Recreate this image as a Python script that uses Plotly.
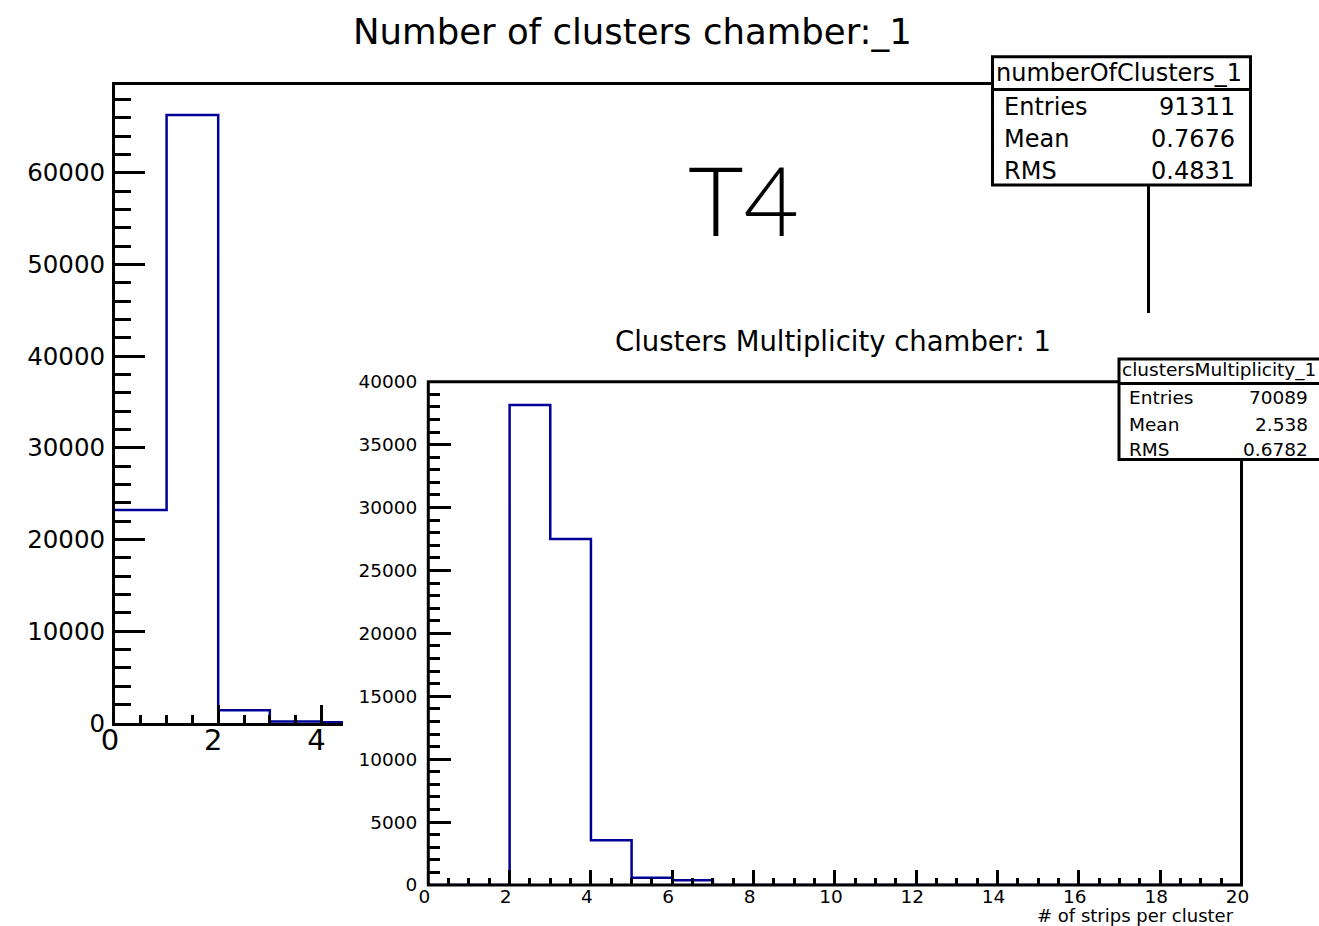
import plotly.graph_objects as go

# ---- data -------------------------------------------------------------
# number of clusters per event, chamber 1 (20 unit-width bins, 0..20)
clusters_edges = list(range(0, 21))
clusters_counts = [23230, 66300, 1400, 160, 90, 40, 20, 10, 0, 0,
                   0, 0, 0, 0, 0, 0, 0, 0, 0, 0]
clusters_stats = [("Entries", "91311"), ("Mean", "0.7676"), ("RMS", "0.4831")]

# strips per cluster, chamber 1 (20 unit-width bins, 0..20)
mult_edges = list(range(0, 21))
mult_counts = [0, 0, 38150, 27500, 3560, 580, 380, 0, 0, 0,
               0, 0, 0, 0, 0, 0, 0, 0, 0, 0]
mult_stats = [("Entries", "70089"), ("Mean", "2.538"), ("RMS", "0.6782")]

main_title = "Number of clusters chamber:_1"
inset_title = "Clusters Multiplicity chamber: 1"
inset_xtitle = "# of strips per cluster"
big_label = "T4"

# ---- page geometry (pixels -> paper fractions) ------------------------
W, H = 1319, 926
FONT = "DejaVu Sans"
HIST = "#000099"

# frame edges in pixels
MAIN = dict(l=115, r=1147, t=84.5, b=723)
INSET = dict(l=428.3, r=1241.5, t=381.7, b=885)
PAD = dict(l=343, t=313)


def fx(p):
    return p / W


def fy(p):
    return 1 - p / H


def step(edges, counts):
    # histogram outline: one horizontal segment per bin
    return edges, list(counts) + [counts[-1]]


fig = go.Figure()

xs, ys = step(clusters_edges, clusters_counts)
fig.add_trace(go.Scatter(x=xs, y=ys, mode="lines", line_shape="hv",
                         line=dict(color=HIST, width=2.5),
                         xaxis="x", yaxis="y", hoverinfo="skip"))

# white inset pad sitting over the lower right of the main frame
fig.add_trace(go.Scatter(x=[], y=[], mode="lines", xaxis="x2", yaxis="y2",
                         hoverinfo="skip"))

xs, ys = step(mult_edges, mult_counts)
fig.add_trace(go.Scatter(x=xs, y=ys, mode="lines", line_shape="hv",
                         line=dict(color=HIST, width=2.5),
                         xaxis="x3", yaxis="y3", hoverinfo="skip"))


def frame_axis(domain, rng, dtick, mdtick, tlen, mlen, fsize, anchor,
               showline=True, **kw):
    return dict(domain=domain, range=rng, anchor=anchor, showline=showline,
                linecolor="black", linewidth=3, mirror=True,
                ticks="inside", ticklen=tlen, tickwidth=3, tickcolor="black",
                tick0=0, dtick=dtick, tickformat="d",
                minor=dict(ticks="inside", ticklen=mlen, tickwidth=3,
                           tickcolor="black", tick0=0, dtick=mdtick),
                showgrid=False, zeroline=False, fixedrange=True,
                tickfont=dict(family=FONT, size=fsize, color="black"), **kw)


layout = dict(
    width=W, height=H,
    margin=dict(l=0, r=0, t=0, b=0, autoexpand=False),
    paper_bgcolor="white", plot_bgcolor="white", showlegend=False,
    xaxis=frame_axis([fx(MAIN["l"]), fx(MAIN["r"])], [0, 20], 2, 0.5, 18, 8,
                     29, "y", ticklabelshift=-5, ticklabelstandoff=-11),
    yaxis=frame_axis([fy(MAIN["b"]), fy(MAIN["t"])], [0, 69615], 10000, 2000,
                     30, 16, 24.5, "x", ticklabelstandoff=2),
    xaxis2=dict(domain=[fx(PAD["l"]), 1], range=[0, 1], anchor="y2",
                visible=False, fixedrange=True),
    yaxis2=dict(domain=[0, fy(PAD["t"])], range=[0, 1], anchor="x2",
                visible=False, fixedrange=True),
    xaxis3=frame_axis([fx(INSET["l"]), fx(INSET["r"])], [0, 20], 2, 0.5, 15,
                      7, 18.5, "y3", showline=False, ticklabelshift=-4,
                      ticklabelstandoff=-2),
    yaxis3=frame_axis([fy(INSET["b"]), fy(INSET["t"])], [0, 40000], 5000,
                      1000, 23, 12, 18.5, "x3", showline=False,
                      ticklabelstandoff=10),
)
fig.update_layout(**layout)

# inset frame drawn on top so it hides the empty-bin outline along the axis
fig.add_shape(type="rect", xref="paper", yref="paper",
              x0=fx(INSET["l"]), x1=fx(INSET["r"]),
              y0=fy(INSET["b"]), y1=fy(INSET["t"]),
              line=dict(color="black", width=3), layer="above")


def txt(text, x, y, size, xanchor="center", family=FONT, weight="normal"):
    fig.add_annotation(text=text, x=fx(x), y=fy(y), xref="paper",
                       yref="paper", xanchor=xanchor, yanchor="middle",
                       showarrow=False,
                       font=dict(family=family, size=size, color="black",
                                 weight=weight))


txt(main_title, 632, 31, 35.5)
txt(big_label, 743, 198, 96, family="Lato", weight=300)
txt(inset_title, 833, 341, 27.5)
txt(inset_xtitle, 1236, 915, 18, xanchor="right")


def stats_box(name, rows, x0, x1, y0, ydiv, y1, title_y, row_ys,
              label_x, value_x, size):
    fig.add_shape(type="rect", xref="paper", yref="paper",
                  x0=fx(x0), x1=fx(x1), y0=fy(y1), y1=fy(y0),
                  line=dict(color="black", width=3), fillcolor="white",
                  layer="above")
    fig.add_shape(type="line", xref="paper", yref="paper",
                  x0=fx(x0), x1=fx(x1), y0=fy(ydiv), y1=fy(ydiv),
                  line=dict(color="black", width=3), layer="above")
    txt(name, x0 + 1, title_y, size, xanchor="left")
    for (lab, val), yy in zip(rows, row_ys):
        txt(lab, label_x, yy, size, xanchor="left")
        txt(val, value_x, yy, size, xanchor="right")


stats_box("numberOfClusters_1", clusters_stats, 992.5, 1250.5, 56.7, 89.5,
          185, 73, [106.5, 139.5, 171], 1002, 1237, 24)
stats_box("clustersMultiplicity_1", mult_stats, 1119, 1330, 359, 383.5,
          459.5, 370.5, [397, 424.5, 449], 1127, 1310, 18.5)

fig.write_html("out.html")
